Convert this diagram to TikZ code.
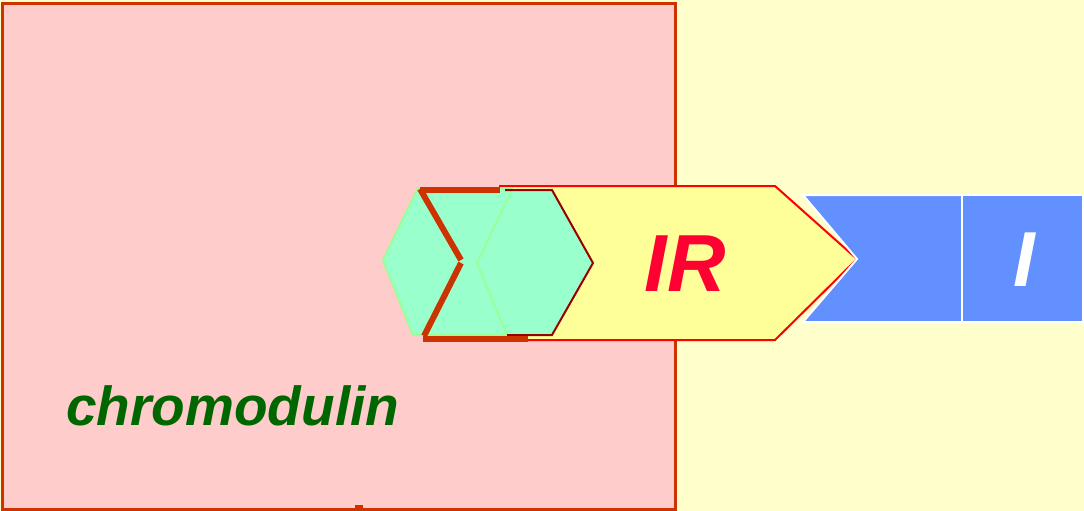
\documentclass[tikz,border=0pt]{standalone}
\usepackage{fontspec}
\setmainfont{Liberation Sans}
\definecolor{bgyel}{HTML}{FFFFCC}
\definecolor{pinkf}{HTML}{FFCCCC}
\definecolor{rust}{HTML}{CC3300}
\definecolor{arrowy}{HTML}{FFFF99}
\definecolor{bluef}{HTML}{6390FF}
\definecolor{hexf}{HTML}{99FFCC}
\definecolor{hexl}{HTML}{99FF99}
\definecolor{darkred}{HTML}{990000}
\definecolor{irred}{HTML}{FF0033}
\definecolor{cgreen}{HTML}{006600}
\begin{document}
\begin{tikzpicture}[x=1pt,y=-1pt,
  lbl/.style={font=\bfseries\itshape, inner sep=0pt},
  bracket/.style={draw=rust, line width=6pt}]
\useasboundingbox (0,0) rectangle (1084,511);
\fill[bgyel] (0,0) rectangle (1084,511);
% chromodulin box
\draw[rust, fill=pinkf, line width=3pt] (2.5,3.5) rectangle (675.5,509.5);
\fill[rust] (355,505) rectangle (363,510);
% yellow IR arrow
\draw[red, fill=arrowy, line width=2pt] (500,186) -- (775,186) -- (857,259) -- (775,340) -- (500,340) -- cycle;
% blue blocks
\draw[white, fill=bluef, line width=2pt] (803,195) -- (962,195) -- (962,322) -- (803,322) -- (857,259) -- cycle;
\draw[white, fill=bluef, line width=2pt] (962,195) -- (1083,195) -- (1083,322) -- (962,322) -- cycle;
% hexagons
\draw[hexl, fill=hexf, line width=2pt] (383,260) -- (418,188) -- (512,188) -- (548,262) -- (507,335) -- (413,335) -- cycle;
\fill[hexf] (477,263) -- (512,190) -- (552,190) -- (593,263) -- (552,335) -- (507,335) -- cycle;
\draw[hexl, line width=2pt] (512,190) -- (477,263) -- (507,335);
\draw[darkred, line width=2pt] (505,190) -- (552,190) -- (593,263) -- (552,335) -- (507,335);
% rust bracket
\draw[bracket] (420,190) -- (500,190);
\draw[bracket] (420,189) -- (461,260);
\draw[bracket] (461,263) -- (424,336);
\draw[bracket] (423,339) -- (528,339);
% labels
\node[lbl, text=irred, font=\fontsize{81}{81}\selectfont\bfseries\itshape] (ir) at (685,264) {IR};
\node[lbl, text=white, font=\fontsize{78}{78}\selectfont\bfseries\itshape] (i) at (1024,260) {I};
\node[lbl, text=cgreen, font=\fontsize{55}{55}\selectfont\bfseries\itshape, anchor=base west] (chr) at (66,425) {chromodulin};
\end{tikzpicture}
\end{document}
